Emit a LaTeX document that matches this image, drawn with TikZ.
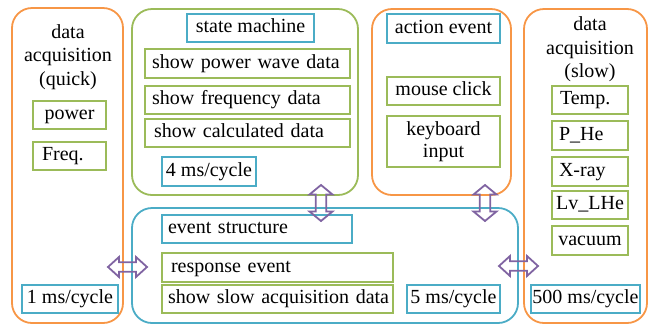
\documentclass[tikz,border=0pt]{standalone}
\usepackage{fontspec}
\setmainfont{Liberation Serif}
\definecolor{cOr}{HTML}{F79646}
\definecolor{cGr}{HTML}{9BBB59}
\definecolor{cBl}{HTML}{4BACC6}
\definecolor{cPu}{HTML}{8064A2}
\begin{document}
\begin{tikzpicture}[x=1pt,y=-1pt,
  every node/.style={font=\fontsize{20pt}{23.5pt}\selectfont},
  big/.style={draw, line width=1.8pt, rounded corners=20pt, anchor=north west, inner sep=0pt, outer sep=0pt},
  sb/.style={draw, line width=1.8pt, anchor=north west, inner sep=0pt, outer sep=0pt, text height=14pt, text depth=4.5pt, align=center},
  gb/.style={sb, draw=cGr},
  bb/.style={sb, draw=cBl},
  arr/.style={draw=cPu, line width=1.8pt, line join=miter}
]
\useasboundingbox (0,0) rectangle (650,325);

% big containers
\node[big, draw=cOr, minimum width=111pt, minimum height=315pt] (quick) at (12,8) {};
\node[big, draw=cGr, minimum width=226pt, minimum height=186pt] (sm) at (132,9) {};
\node[big, draw=cOr, minimum width=139pt, minimum height=186pt] (act) at (372,9) {};
\node[big, draw=cOr, minimum width=123pt, minimum height=314pt] (slow) at (524,9) {};
\node[big, draw=cBl, minimum width=386pt, minimum height=115pt] (ev) at (132,208) {};

% quick acquisition
\node[align=center] (tq) at (68,57) {data\\acquisition\\(quick)};
\node[gb, minimum width=73pt, minimum height=28pt] (pow) at (33,101) {power};
\node[gb, minimum height=28pt, text width=55pt, inner xsep=9pt, align=left] (freq) at (33,142) {\mbox{Freq.}};
\node[bb, minimum width=96pt, minimum height=28pt] (c1) at (22,285) {1 ms/cycle};

% state machine
\node[bb, minimum width=127pt, minimum height=28pt] (stm) at (187,14) {state machine};
\node[gb, minimum height=29pt, text width=191pt, inner xsep=7pt, align=left] (spw) at (145,49) {\mbox{show power wave data}};
\node[gb, minimum height=28pt, text width=191pt, inner xsep=7pt, align=left] (sfd) at (145,86) {\mbox{show frequency data}};
\node[gb, minimum height=28pt, text width=187pt, inner xsep=9pt, align=left] (scd) at (145,119) {\mbox{show calculated data}};
\node[bb, minimum width=94pt, minimum height=29pt] (c4) at (162,157) {4 ms/cycle};

% action event
\node[bb, minimum width=113pt, minimum height=29pt] (ae) at (387,14) {action event};
\node[gb, minimum width=113pt, minimum height=28pt] (mc) at (387,77) {mouse click};
\node[draw=cGr, line width=1.8pt, anchor=north west, inner sep=0pt, outer sep=0pt, align=center,
      minimum width=113pt, minimum height=51pt,
      font=\fontsize{20pt}{22.5pt}\selectfont] (kb) at (387,116) {keyboard\\input};

% slow acquisition
\node[align=center] (ts) at (590,49.5) {data\\acquisition\\(slow)};
\node[gb, minimum height=28pt, text width=60pt, inner xsep=8pt, align=left] (tmp) at (552,86) {\mbox{Temp.}};
\node[gb, minimum height=29pt, text width=62pt, inner xsep=7pt, align=left] (phe) at (552,121) {\mbox{P\_He}};
\node[gb, minimum height=29pt, text width=62pt, inner xsep=7pt, align=left] (xr) at (552,157) {\mbox{X-ray}};
\node[gb, minimum width=76pt, minimum height=28pt] (lv) at (552,191) {Lv\_LHe};
\node[gb, minimum width=76pt, minimum height=29pt] (vac) at (552,226) {vacuum};
\node[bb, minimum width=109pt, minimum height=28pt] (c500) at (531,285) {500 ms/cycle};

% event structure
\node[bb, minimum height=28pt, text width=178pt, inner xsep=6pt, align=left] (es) at (162,215) {\mbox{event structure}};
\node[gb, minimum height=29pt, text width=213pt, inner xsep=9pt, align=left] (re) at (162,253) {\mbox{response event}};
\node[gb, minimum height=28pt, text width=219pt, inner xsep=6pt, align=left] (ssa) at (162,285) {\mbox{show slow acquisition data}};
\node[bb, minimum width=93pt, minimum height=28pt] (c5) at (407,285) {5 ms/cycle};

% double block arrows (hollow)
\coordinate (a1) at (127.5,267);
\coordinate (a4) at (518.5,266);
\coordinate (a2) at (321,203);
\coordinate (a3) at (485,203);
\foreach \c in {a1,a4}{
  \draw[arr] ([xshift=-19.5pt]\c) -- ++(11,-10) -- ++(0,5.3) -- ++(17,0) -- ++(0,-5.3)
    -- ++(11,10) -- ++(-11,10) -- ++(0,-5.3) -- ++(-17,0) -- ++(0,5.3) -- cycle;
}
\foreach \c in {a2,a3}{
  \draw[arr] ([yshift=18pt]\c) -- ++(11.5,9.5) -- ++(-6.3,0) -- ++(0,17) -- ++(6.3,0)
    -- ++(-11.5,9.5) -- ++(-11.5,-9.5) -- ++(6.3,0) -- ++(0,-17) -- ++(-6.3,0) -- cycle;
}
\end{tikzpicture}
\end{document}
